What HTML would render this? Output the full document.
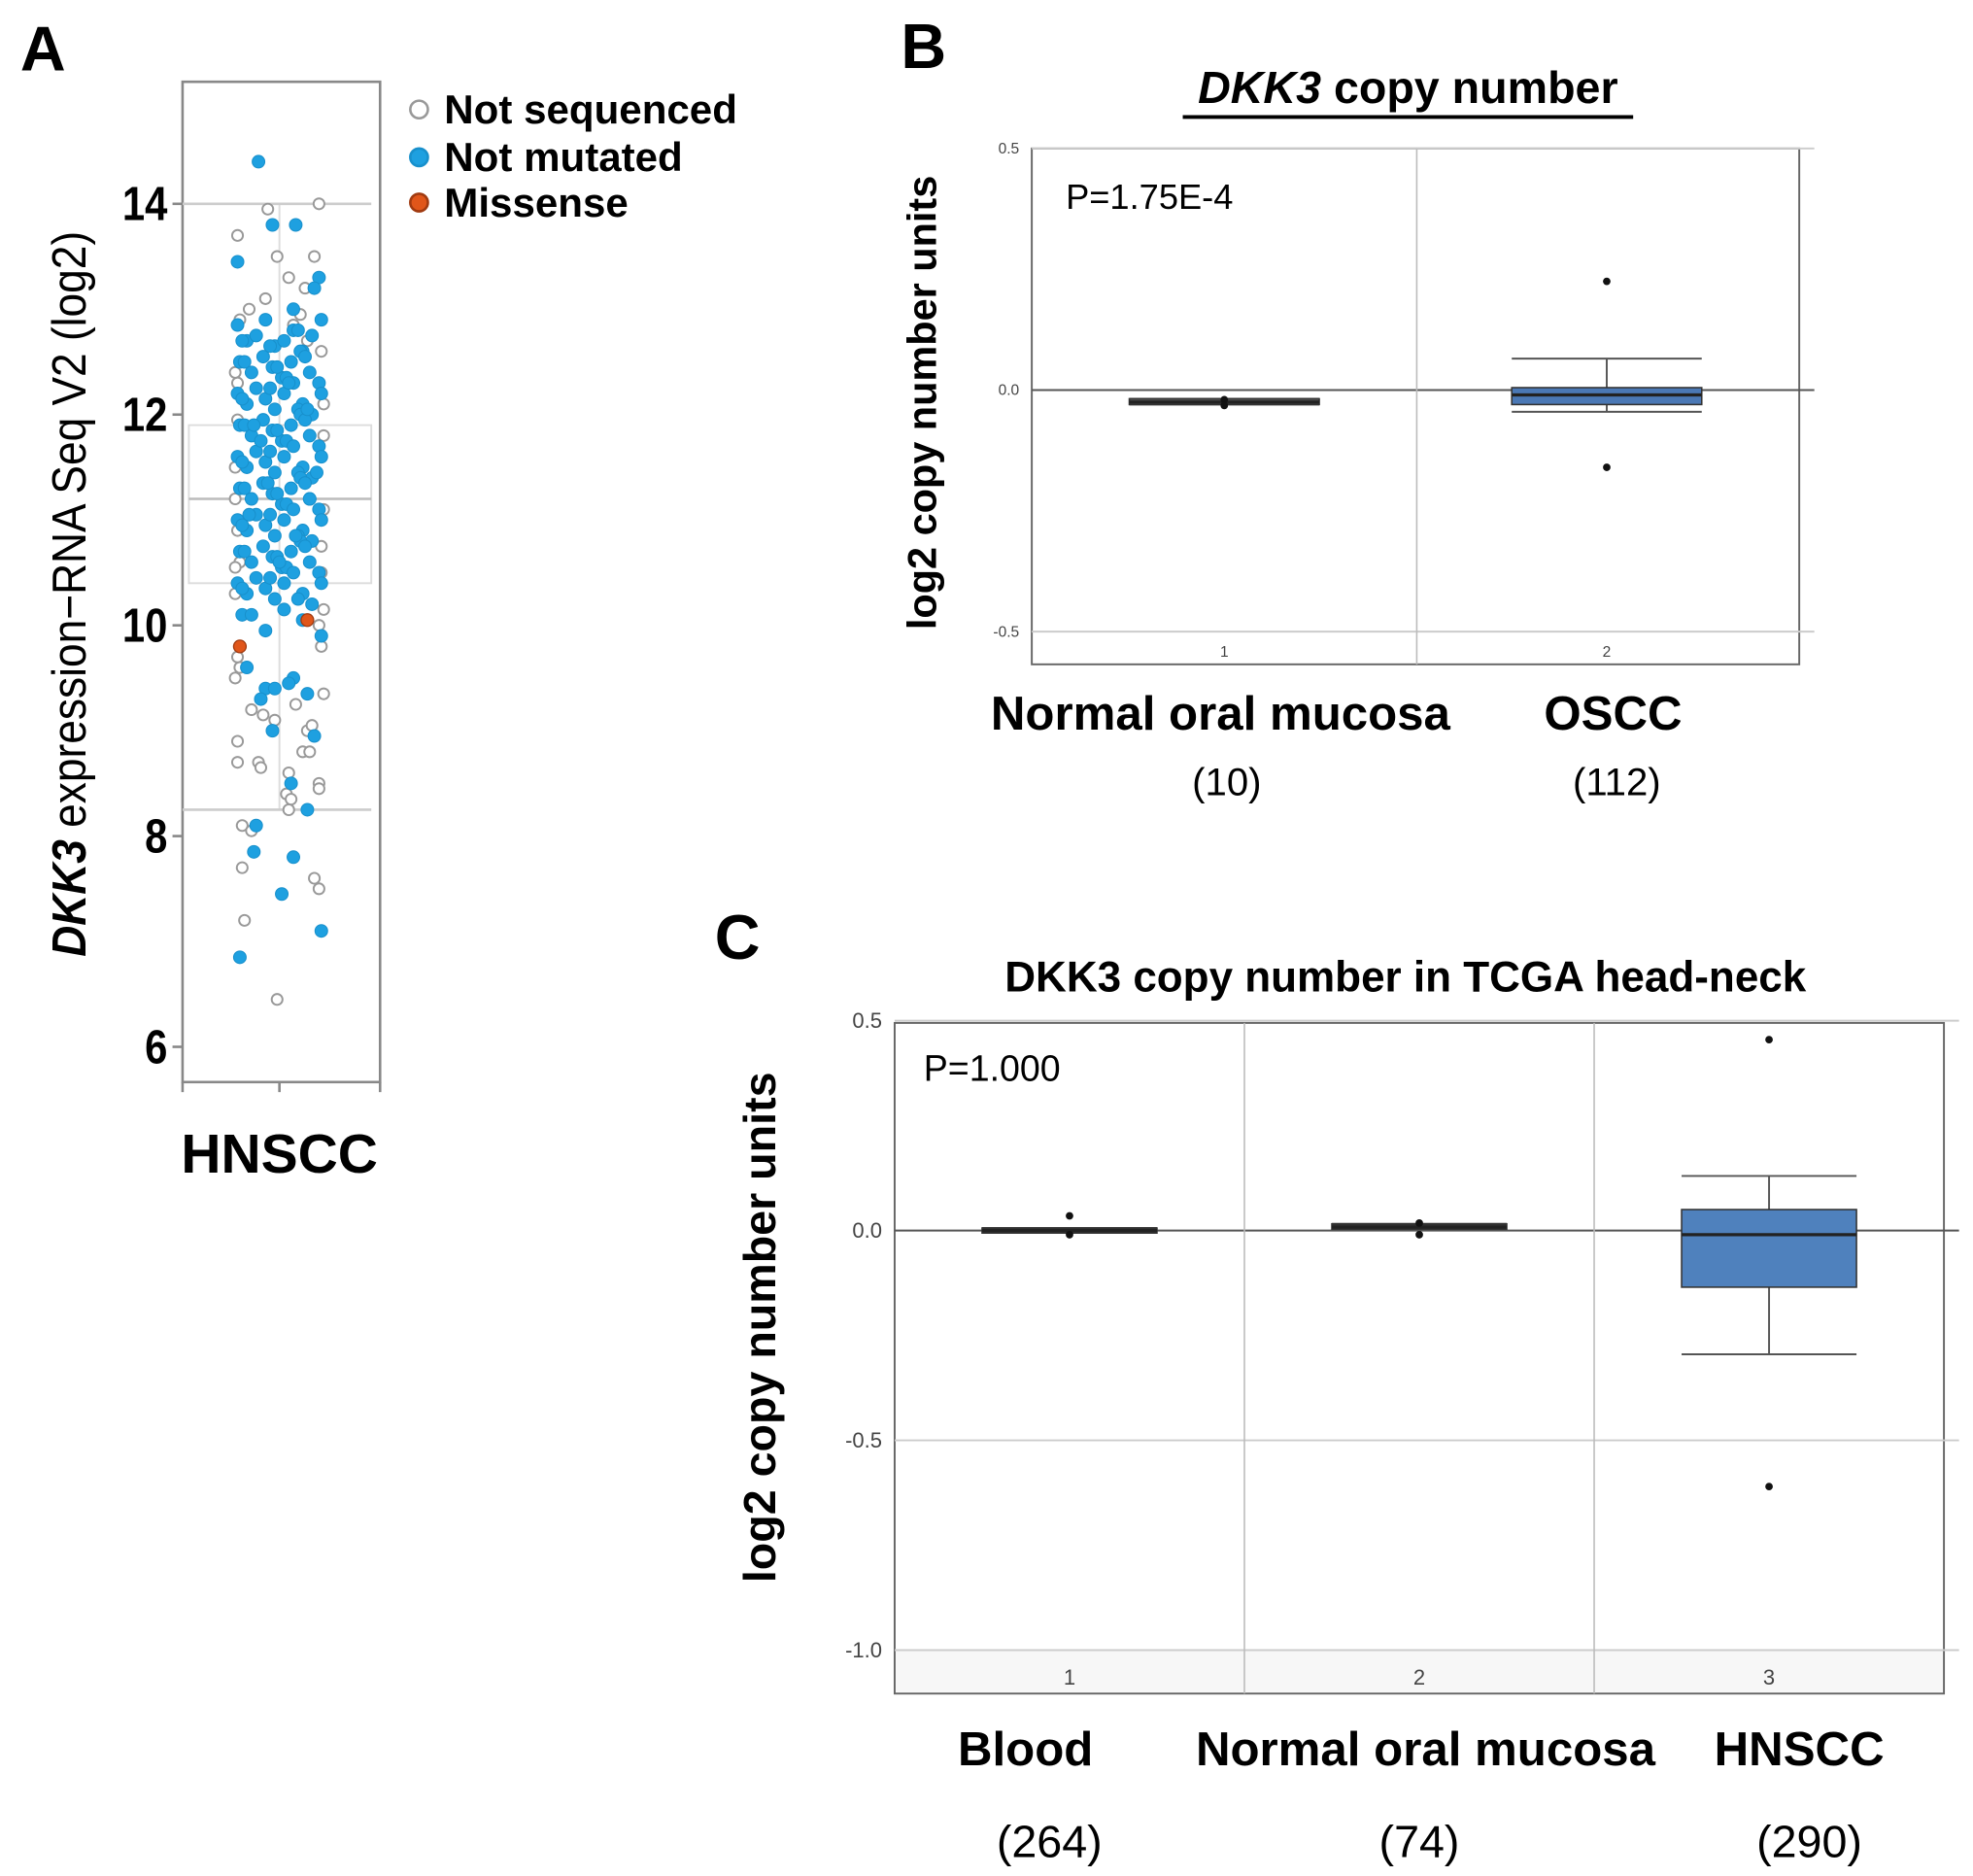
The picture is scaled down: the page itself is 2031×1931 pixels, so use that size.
<!DOCTYPE html>
<html><head><meta charset="utf-8"><style>
html,body{margin:0;padding:0;background:#fff}
svg{display:block}
text{font-family:"Liberation Sans",sans-serif}
</style></head><body>
<svg id="fig" width="2031" height="1931" viewBox="0 0 1568 1491" xmlns="http://www.w3.org/2000/svg">
<rect width="1568" height="1491" fill="#fff"/>
<text x="16" y="56" font-size="50" font-weight="bold">A</text>
<text x="716" y="54" font-size="50" font-weight="bold">B</text>
<text x="568" y="762" font-size="50" font-weight="bold">C</text>
<g id="pa"></g>
<g id="pb"></g>
<g id="pc"></g>
</svg>
<script>
// ---------- Panel A data ----------
const aTicks = [6, 8, 10, 12, 14];
const aBox = [10.4, 11.2, 11.9]; // q1, median, q3
const aWhiskers = [8.25, 14.0];
const blueVals = [14.4,13.8,13.8,13.45,13.3,13.2,13.0,6.85,7.45,7.8,7.1,8.1,7.85,8.25,8.5,9.0,8.95,9.4,
12.85,12.7,12.75,12.9,12.65,12.7,12.8,12.6,12.75,12.9,12.7,12.65,12.8,
12.5,12.4,12.55,12.45,12.35,12.5,12.6,12.4,12.3,12.5,12.45,12.55,12.35,
12.2,12.1,12.25,12.15,12.05,12.2,12.3,12.1,12.0,12.2,12.15,12.25,12.05,
11.9,11.8,11.95,11.85,11.75,11.9,12.0,11.8,11.7,11.9,11.85,11.95,11.75,
11.6,11.5,11.65,11.55,11.45,11.6,11.7,11.5,11.4,11.6,11.55,11.65,11.45,
11.3,11.2,11.35,11.25,11.15,11.3,11.4,11.2,11.1,11.3,11.25,11.35,11.15,
11.0,10.9,11.05,10.95,10.85,11.0,11.1,10.9,10.8,11.0,10.95,11.05,10.85,
10.7,10.6,10.75,10.65,10.55,10.7,10.8,10.6,10.5,10.7,10.65,10.75,10.55,
10.4,10.3,10.45,10.35,10.25,10.4,10.5,10.3,10.2,10.4,10.35,10.45,10.25,
10.1,9.95,10.15,10.05,9.9,10.1,9.6,9.4,9.5,9.35,9.45,9.3,
12.3,11.75,11.45,11.05,10.85,12.05,11.35,10.6,11.9,11.2];
const blueJit = [-0.45,-0.15,0.35,-0.9,0.85,0.75,0.3,-0.85,0.05,0.3,0.9,-0.5,-0.55,0.6,0.25,-0.15,0.75,-0.3,
-0.9,-0.7,-0.5,-0.3,-0.1,0.1,0.3,0.5,0.7,0.9,-0.8,-0.2,0.4,
-0.85,-0.6,-0.35,-0.15,0.05,0.25,0.45,0.65,0.85,-0.75,-0.05,0.55,0.15,
-0.9,-0.7,-0.5,-0.3,-0.1,0.1,0.3,0.5,0.7,0.9,-0.8,-0.2,0.4,
-0.85,-0.6,-0.35,-0.15,0.05,0.25,0.45,0.65,0.85,-0.75,-0.05,0.55,0.15,
-0.9,-0.7,-0.5,-0.3,-0.1,0.1,0.3,0.5,0.7,0.9,-0.8,-0.2,0.4,
-0.85,-0.6,-0.35,-0.15,0.05,0.25,0.45,0.65,0.85,-0.75,-0.05,0.55,0.15,
-0.9,-0.7,-0.5,-0.3,-0.1,0.1,0.3,0.5,0.7,0.9,-0.8,-0.2,0.4,
-0.85,-0.6,-0.35,-0.15,0.05,0.25,0.45,0.65,0.85,-0.75,-0.05,0.55,0.15,
-0.9,-0.7,-0.5,-0.3,-0.1,0.1,0.3,0.5,0.7,0.9,-0.8,-0.2,0.4,
-0.8,-0.3,0.1,0.5,0.9,-0.6,-0.7,-0.1,0.3,0.6,0.2,-0.4,
0.2,-0.4,0.8,-0.65,0.35,0.6,-0.25,0.0,-0.55,0.65];
const grayVals = [13.95,14.0,13.7,13.5,13.5,6.45,7.2,7.6,7.5,7.7,8.7,8.7,8.65,8.6,8.5,8.45,8.4,8.35,8.25,8.1,8.05,8.8,8.8,
13.3,13.2,13.1,13.0,12.9,12.95,12.6,12.3,12.7,12.5,12.85,11.2,10.9,10.6,10.5,10.55,10.0,9.8,9.6,9.5,9.2,9.15,9.1,9.0,8.9,9.25,9.05,
11.8,11.5,11.1,10.75,12.1,12.4,11.95,10.3,10.15,9.7,9.35,12.2];
const grayJit = [-0.25,0.85,-0.9,-0.05,0.75,-0.05,-0.75,0.75,0.85,-0.8,-0.9,-0.45,-0.4,0.2,0.85,0.85,0.15,0.25,0.2,-0.8,-0.6,0.5,0.65,
0.2,0.55,-0.3,-0.65,-0.85,0.45,0.9,-0.9,0.6,-0.75,0.3,-0.95,-0.9,-0.85,0.9,-0.95,0.85,0.9,-0.85,-0.95,-0.6,-0.35,-0.1,0.6,-0.9,0.35,0.7,
0.95,-0.95,0.95,0.9,0.95,-0.95,-0.9,-0.95,0.95,-0.9,0.95,0.9];
const missVals = [9.8, 10.05];
const missJit = [-0.85, 0.6];
const legendLabels = ["Not sequenced","Not mutated","Missense"];

// ---------- Panel B data ----------
const bCats = ["1","2"];
const bNames = ["Normal oral mucosa","OSCC"];
const bCounts = ["(10)","(112)"];
const bTicks = [0.5, 0.0, -0.5];
const bQ1 = [-0.03, -0.03];
const bMed = [-0.025, -0.01];
const bQ3 = [-0.018, 0.005];
const bLow = [-0.03, -0.045];
const bHigh = [-0.018, 0.065];
const bOut = [[-0.02,-0.032],[0.225,-0.16]];

// ---------- Panel C data ----------
const cCats = ["1","2","3"];
const cCounts = ["(264)","(74)","(290)"];
const cTicks = [0.5, 0.0, -0.5, -1.0];
const cQ1 = [-0.005, 0.003, -0.135];
const cMed = [0.0, 0.008, -0.01];
const cQ3 = [0.006, 0.016, 0.05];
const cLow = [-0.005, 0.003, -0.295];
const cHigh = [0.006, 0.016, 0.13];
const cOut = [[0.035,-0.01],[0.018,-0.01],[0.455,-0.61]];

const NS='http://www.w3.org/2000/svg';
function mk(parent, tag, attrs, txt){
  const e=document.createElementNS(NS,tag);
  for(const k in attrs) e.setAttribute(k,attrs[k]);
  if(txt!==undefined) e.textContent=txt;
  parent.appendChild(e); return e;
}

// ===== Panel A =====
(function(){
  const g=document.getElementById('pa');
  const L=145,R=302,T=65,B=860,cx=222,jw=37;
  const y=v=>832-(v-6)*83.75;
  const x=j=>cx+j*jw;
  let e;
  e=mk(g,'rect',{x:L,y:T,width:R-L,height:B-T,fill:'none',stroke:'#888','stroke-width':2});
   
  e=mk(g,'line',{x1:cx,y1:y(aWhiskers[1]),x2:cx,y2:y(aWhiskers[0]),stroke:'#ddd','stroke-width':1.5});
   
  aWhiskers.forEach(w=>{
    e=mk(g,'line',{x1:L,x2:R-7,y1:y(w),y2:y(w),stroke:'#ccc','stroke-width':2});
     
  });
  e=mk(g,'rect',{x:150,y:y(aBox[2]),width:145,height:y(aBox[0])-y(aBox[2]),fill:'none',stroke:'#ddd','stroke-width':1.5});
   
  e=mk(g,'line',{x1:150,x2:295,y1:y(aBox[1]),y2:y(aBox[1]),stroke:'#bbb','stroke-width':2});
   
  aTicks.forEach(t=>{
    e=mk(g,'line',{x1:L-8,x2:L,y1:y(t),y2:y(t),stroke:'#888','stroke-width':2});
     
    e=mk(g,'text',{x:L-12,y:y(t)+13,'text-anchor':'end','font-size':38,'font-weight':'bold',transform:`translate(${L-12},0) scale(0.85,1) translate(${-(L-12)},0)`},String(t));
     
  });
  [L,cx,R].forEach(px=>{
    e=mk(g,'line',{x1:px,x2:px,y1:B,y2:B+8,stroke:'#888','stroke-width':2});
     
  });
  grayVals.forEach((v,i)=>{
    e=mk(g,'circle',{cx:x(grayJit[i]),cy:y(v),r:4.3,fill:'#fff',stroke:'#999','stroke-width':1.5});
     
  });
  blueVals.forEach((v,i)=>{
    e=mk(g,'circle',{cx:x(blueJit[i]),cy:y(v),r:5,fill:'#1ea0e0',stroke:'#1890cc','stroke-width':0.8});
     
  });
  missVals.forEach((v,i)=>{
    e=mk(g,'circle',{cx:x(missJit[i]),cy:y(v),r:5,fill:'#e0561a',stroke:'#a03a10','stroke-width':1});
     
  });
  e=mk(g,'text',{x:222,y:932,'text-anchor':'middle','font-size':44,'font-weight':'bold'},'HNSCC');
   
  const t=mk(g,'text',{x:0,y:0,'text-anchor':'middle','font-size':38,transform:'translate(68,472) rotate(-90) scale(0.9,1)'});
   
  mk(t,'tspan',{'font-style':'italic','font-weight':'bold'},'DKK3');
  mk(t,'tspan',{},' expression−RNA Seq V2 (log2)');
  const ly=[87,125,161];
  const styles=[{fill:'#fff',stroke:'#999'},{fill:'#1ea0e0',stroke:'#1890cc'},{fill:'#e0561a',stroke:'#a03a10'}];
  legendLabels.forEach((lab,i)=>{
    e=mk(g,'circle',{cx:333,cy:ly[i],r:7,fill:styles[i].fill,stroke:styles[i].stroke,'stroke-width':2});
     
    e=mk(g,'text',{x:353,y:ly[i]+11,'font-size':32.5,'font-weight':'bold'},lab);
     
  });
})();

// generic boxplot panel
function boxPanel(g,o){
  const y=v=>o.y0-v*o.k;
  let e;
  e=mk(g,'rect',{x:o.L,y:o.T,width:o.R-o.L,height:o.B-o.T,fill:'#fff',stroke:'#666','stroke-width':1.5});
   
  if(o.band){
    e=mk(g,'rect',{x:o.L+1,y:o.band,width:o.R-o.L-2,height:o.B-o.band-1,fill:'#f7f7f7'});
     
  }
  o.ticks.forEach(t=>{
    e=mk(g,'line',{x1:o.L,x2:o.R+12,y1:y(t),y2:y(t),stroke:t===0?'#555':'#ccc','stroke-width':1.5});
     
    e=mk(g,'text',{x:o.L-10,y:y(t)+o.tf/3,'text-anchor':'end','font-size':o.tf,fill:'#444'},t.toFixed(1));
     
  });
  o.sep.forEach(sx=>{
    e=mk(g,'line',{x1:sx,x2:sx,y1:o.T,y2:o.B,stroke:'#bbb','stroke-width':1.2});
     
  });
  o.cats.forEach((c,i)=>{
    const cx=o.cx[i],hw=o.bw/2;
    e=mk(g,'text',{x:cx,y:o.catY,'text-anchor':'middle','font-size':o.tf,fill:'#444'},c);
     
    e=mk(g,'line',{x1:cx,x2:cx,y1:y(o.high[i]),y2:y(o.low[i]),stroke:'#555','stroke-width':1.5});
     
    [o.high[i],o.low[i]].forEach(w=>{
      e=mk(g,'line',{x1:cx-hw,x2:cx+hw,y1:y(w),y2:y(w),stroke:'#555','stroke-width':1.5});
       
    });
    const h=Math.max(y(o.q1[i])-y(o.q3[i]),4);
    e=mk(g,'rect',{x:cx-hw,y:y(o.q3[i]),width:o.bw,height:h,fill:o.fill[i],stroke:'#333','stroke-width':1.2});
     
    e=mk(g,'line',{x1:cx-hw,x2:cx+hw,y1:y(o.med[i]),y2:y(o.med[i]),stroke:'#222','stroke-width':2.5});
     
    o.out[i].forEach(v=>{
      e=mk(g,'circle',{cx:cx,cy:y(v),r:3,fill:'#111'});
       
    });
  });
}

// ===== Panel B =====
(function(){
  const g=document.getElementById('pb');
  boxPanel(g,{L:820,R:1430,T:118,B:528,y0:310,k:384,ticks:bTicks,tf:12,sep:[1126],cats:bCats,cx:[973,1277],bw:151,
    q1:bQ1,q3:bQ3,med:bMed,low:bLow,high:bHigh,out:bOut,fill:['#555','#4a78b5'],catY:522});
  let e;
  const t=mk(g,'text',{x:1119,y:82,'text-anchor':'middle','font-size':36,'font-weight':'bold'});
   
  mk(t,'tspan',{'font-style':'italic'},'DKK3');
  mk(t,'tspan',{},' copy number');
  e=mk(g,'line',{x1:940,x2:1298,y1:93,y2:93,stroke:'#000','stroke-width':3});
   
  e=mk(g,'text',{x:847,y:166,'font-size':28},'P=1.75E-4');
   
  e=mk(g,'text',{x:0,y:0,'text-anchor':'middle','font-size':32,'font-weight':'bold',transform:'translate(744,320) rotate(-90)'},'log2 copy number units');
   
  const nx=[970,1282],cnx=[975,1285];
  bNames.forEach((n,i)=>{
    e=mk(g,'text',{x:nx[i],y:580,'text-anchor':'middle','font-size':38,'font-weight':'bold'},n);
     
    e=mk(g,'text',{x:cnx[i],y:632,'text-anchor':'middle','font-size':31},bCounts[i]);
     
  });
})();

// ===== Panel C =====
(function(){
  const g=document.getElementById('pc');
  boxPanel(g,{L:711,R:1545,T:813,B:1346,y0:978,k:333.5,ticks:cTicks,tf:17,sep:[989,1267],cats:cCats,cx:[850,1128,1406],bw:139,
    q1:cQ1,q3:cQ3,med:cMed,low:cLow,high:cHigh,out:cOut,fill:['#333','#333','#4f81bd'],catY:1339,band:1312});
  let e;
  e=mk(g,'text',{x:1117,y:788,'text-anchor':'middle','font-size':34,'font-weight':'bold'},'DKK3 copy number in TCGA head-neck');
   
  e=mk(g,'text',{x:734,y:859,'font-size':29},'P=1.000');
   
  e=mk(g,'text',{x:0,y:0,'text-anchor':'middle','font-size':36,'font-weight':'bold',transform:'translate(616,1055) rotate(-90)'},'log2 copy number units');
   
  const names=['Blood','Normal  oral mucosa','HNSCC'],nx=[815,1133,1430],cnx=[834,1128,1438];
  names.forEach((n,i)=>{
    e=mk(g,'text',{x:nx[i],y:1403,'text-anchor':'middle','font-size':38,'font-weight':'bold','xml:space':'preserve'},n);
     
    e=mk(g,'text',{x:cnx[i],y:1476,'text-anchor':'middle','font-size':36},cCounts[i]);
     
  });
})();
</script>
</body></html>
